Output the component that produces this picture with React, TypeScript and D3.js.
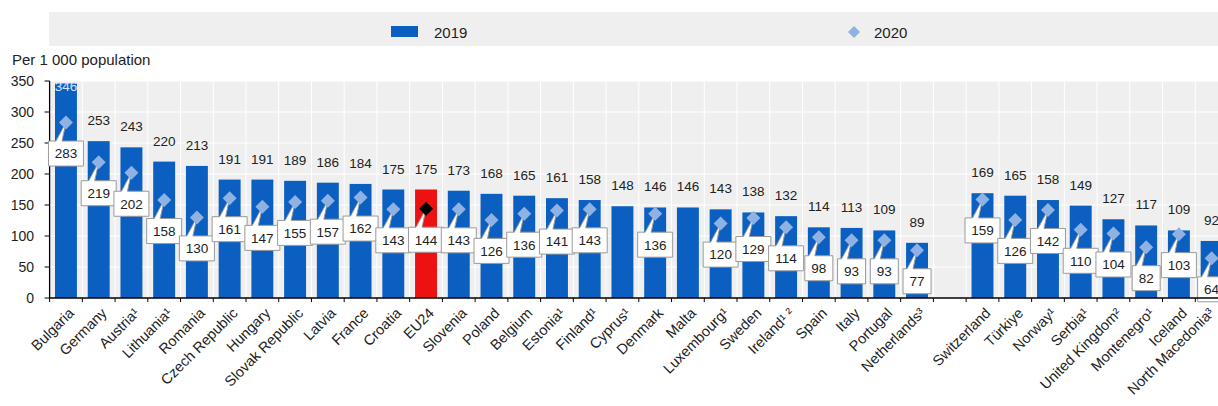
import React from "react";
import * as d3 from "d3";

const countries = [
  "Bulgaria", "Germany", "Austria¹", "Lithuania¹", "Romania", "Czech Republic", "Hungary",
  "Slovak Republic", "Latvia", "France", "Croatia", "EU24", "Slovenia", "Poland", "Belgium",
  "Estonia¹", "Finland¹", "Cyprus¹", "Denmark", "Malta", "Luxembourg¹", "Sweden", "Ireland¹ ²",
  "Spain", "Italy", "Portugal", "Netherlands³", "", "Switzerland", "Türkiye", "Norway¹",
  "Serbia¹", "United Kingdom²", "Montenegro¹", "Iceland", "North Macedonia³",
];
const values2019: (number | null)[] = [
  346, 253, 243, 220, 213, 191, 191, 189, 186, 184, 175, 175, 173, 168, 165, 161, 158, 148,
  146, 146, 143, 138, 132, 114, 113, 109, 89, null, 169, 165, 158, 149, 127, 117, 109, 92,
];
const values2020: (number | null)[] = [
  283, 219, 202, 158, 130, 161, 147, 155, 157, 162, 143, 144, 143, 126, 136, 141, 143, null,
  136, null, 120, 129, 114, 98, 93, 93, 77, null, 159, 126, 142, 110, 104, 82, 103, 64,
];
const yTicks = [0, 50, 100, 150, 200, 250, 300, 350];
const legendLabels = ["2019", "2020"];
const yAxisTitle = "Per 1 000 population";

const W = 1218;
const H = 406;
const FONT = "'Liberation Sans', Arial, sans-serif";
const BLUE = "#0b5fc0";
const RED = "#ee1111";
const LIGHT = "#8fb2e3";

export default function App() {
  const keys = countries.map((c, i) => `${i}`);
  const x = d3.scaleBand<string>().domain(keys).range([49.6, 1228]).paddingInner(0.33).paddingOuter(0.165);
  const y = d3.scaleLinear().domain([0, 350]).range([298, 81]);
  const step = x.step();
  const bw = x.bandwidth();
  const plotLeft = 49.6;
  const plotRight = 1228;

  const diamond = (cx: number, cy: number, r: number) =>
    `M${cx},${cy - r}L${cx + r},${cy}L${cx},${cy + r}L${cx - r},${cy}Z`;

  return (
    <svg width={W} height={H} style={{ display: "block", position: "absolute", left: 0, top: 0 }} fontFamily={FONT}>
      <rect x={0} y={0} width={W} height={H} fill="#ffffff" />
      {/* legend */}
      <rect x={49} y={12} width={1180} height={34} fill="#efefef" />
      <rect x={391} y={26} width={27} height={11} fill={BLUE} />
      <text x={434} y={37.5} fontSize={15} fill="#222">{legendLabels[0]}</text>
      <path d={diamond(854, 32, 6)} fill={LIGHT} />
      <text x={874} y={37.5} fontSize={15} fill="#222">{legendLabels[1]}</text>

      {/* axis title */}
      <text x={12} y={65} fontSize={15} fill="#222">{yAxisTitle}</text>

      {/* plot background */}
      <rect x={plotLeft} y={y(350)} width={plotRight - plotLeft} height={y(0) - y(350)} fill="#efefef" />
      {yTicks.map((t) => (
        <line key={"hg" + t} x1={plotLeft} x2={plotRight} y1={y(t)} y2={y(t)} stroke="#ffffff" strokeWidth={1} />
      ))}
      {keys.map((k, i) => (
        <line key={"vg" + k} x1={plotLeft + i * step} x2={plotLeft + i * step} y1={y(350)} y2={y(0)} stroke="#ffffff" strokeWidth={1} />
      ))}

      {/* bars */}
      {keys.map((k, i) => {
        const v = values2019[i];
        if (v == null) return null;
        return (
          <rect key={"b" + k} x={x(k)!} y={y(v)} width={bw} height={y(0) - y(v)} fill={countries[i] === "EU24" ? RED : BLUE} />
        );
      })}

      {/* axes */}
      <line x1={plotLeft} x2={plotLeft} y1={y(350)} y2={y(0)} stroke="#000" strokeWidth={1.3} />
      {yTicks.map((t) => (
        <g key={"yt" + t}>
          <line x1={plotLeft - 5} x2={plotLeft} y1={y(t)} y2={y(t)} stroke="#000" strokeWidth={1} />
          <text x={34} y={y(t)} dy="0.36em" textAnchor="end" fontSize={14} fill="#222">{t}</text>
        </g>
      ))}

      {/* 2019 labels */}
      {keys.map((k, i) => {
        const v = values2019[i];
        if (v == null) return null;
        const cx = x(k)! + bw / 2;
        const inside = y(v) - 21 < 88;
        return (
          <text key={"l" + k} x={cx} y={inside ? 91 : y(v) - 16} textAnchor="middle" fontSize={13.5}
            fill={inside ? "#d8e6f8" : "#222"}>{v}</text>
        );
      })}

      {/* 2020 callouts */}
      {keys.map((k, i) => {
        const v = values2020[i];
        if (v == null) return null;
        const cx = x(k)! + bw / 2;
        const dy = y(v);
        const w = v >= 100 ? 35 : 28;
        const h = 25;
        const cy = dy + 31;
        const top = cy - h / 2;
        const bot = cy + h / 2;
        const l = cx - w / 2;
        const r = cx + w / 2;
        const path = `M${l},${top}L${cx - 10},${top}L${cx},${dy}L${cx - 4},${top}L${r},${top}L${r},${bot}L${l},${bot}Z`;
        return (
          <g key={"c" + k}>
            <path d={path} fill="#ffffff" stroke="#9a9a9a" strokeWidth={1} />
            <path d={diamond(cx, dy, 7)} fill={countries[i] === "EU24" ? "#000" : LIGHT} />
            <text x={cx} y={cy} dy="0.36em" textAnchor="middle" fontSize={13.5} fill="#222">{v}</text>
          </g>
        );
      })}

      <line x1={plotLeft} x2={plotRight} y1={y(0)} y2={y(0)} stroke="#000" strokeWidth={1.5} />
      {keys.map((k, i) => (
        <line key={"xt" + k} x1={plotLeft + i * step} x2={plotLeft + i * step} y1={y(0)} y2={y(0) + 4} stroke="#000" strokeWidth={1} />
      ))}

      {/* x labels */}
      {keys.map((k, i) => {
        if (!countries[i]) return null;
        const cx = x(k)! + bw / 2;
        const px = Math.min(cx + 9, W - 3);
        return (
          <text key={"xl" + k} transform={`translate(${px},${y(0) + 16}) rotate(-45)`} textAnchor="end" fontSize={14.5} fill="#222">
            {countries[i]}
          </text>
        );
      })}
    </svg>
  );
}
